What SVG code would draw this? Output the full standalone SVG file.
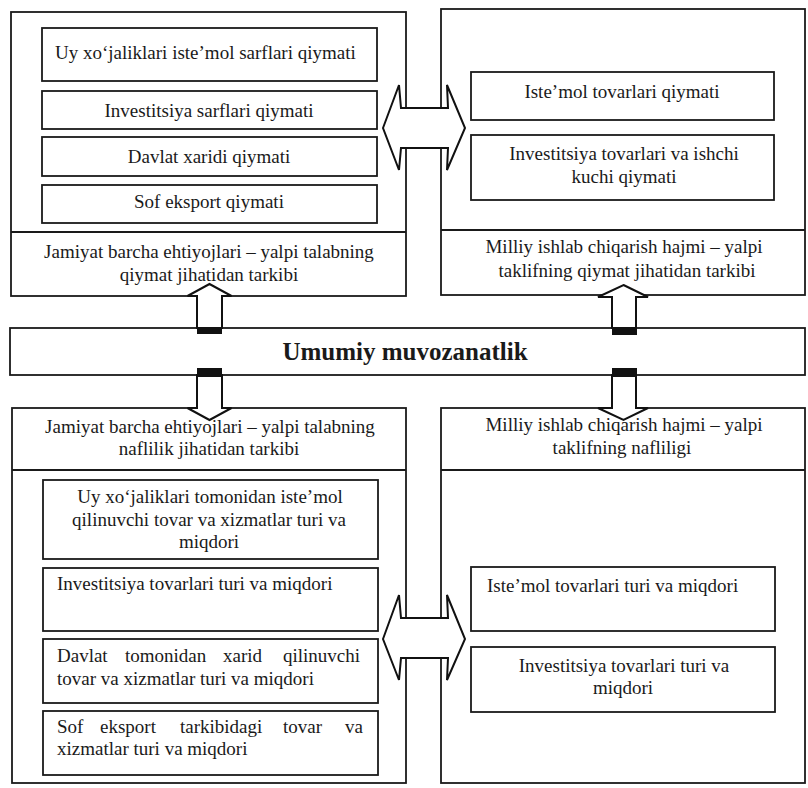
<svg xmlns="http://www.w3.org/2000/svg" width="808" height="788" viewBox="0 0 808 788">
<style>
.box{fill:#fff;stroke:#1a1a1a;stroke-width:1.8}
.sep{stroke:#1a1a1a;stroke-width:1.8}
.arr{fill:#fff;stroke:#111;stroke-width:2;stroke-linejoin:miter}
.blk{fill:#111}
.t{font-family:"Liberation Serif","Times New Roman",serif;font-size:19px;fill:#1a1a1a}
.c{text-anchor:middle}
.b{font-weight:bold;font-size:25px}
</style>
<rect width="808" height="788" fill="#fff"/>

<g id="demand-value">
<rect class="box" x="11" y="12" width="395" height="284"/>
<line class="sep" x1="11" y1="232" x2="406" y2="232"/>
<text class="t c" x="209" y="258">Jamiyat barcha ehtiyojlari – yalpi talabning</text>
<text class="t c" x="209" y="281">qiymat jihatidan tarkibi</text>
</g>
<g id="dv-consumption">
<rect class="box" x="42" y="28" width="335" height="53"/>
<text class="t" x="55" y="59">Uy xo‘jaliklari iste’mol sarflari qiymati</text>
</g>
<g id="dv-investment">
<rect class="box" x="42" y="91" width="335" height="38"/>
<text class="t c" x="209" y="117">Investitsiya sarflari qiymati</text>
</g>
<g id="dv-government">
<rect class="box" x="42" y="137" width="335" height="39"/>
<text class="t c" x="209" y="163">Davlat xaridi qiymati</text>
</g>
<g id="dv-export">
<rect class="box" x="42" y="185" width="335" height="38"/>
<text class="t c" x="209" y="208">Sof eksport qiymati</text>
</g>

<g id="supply-value">
<rect class="box" x="441" y="9" width="364" height="286"/>
<line class="sep" x1="441" y1="230" x2="805" y2="230"/>
<text class="t c" x="624" y="253">Milliy ishlab chiqarish hajmi – yalpi</text>
<text class="t c" x="627" y="277">taklifning qiymat jihatidan tarkibi</text>
</g>
<g id="sv-consumer">
<rect class="box" x="471" y="72" width="303" height="48"/>
<text class="t c" x="622" y="98">Iste’mol tovarlari qiymati</text>
</g>
<g id="sv-investment">
<rect class="box" x="471" y="135" width="303" height="65"/>
<text class="t c" x="624" y="160">Investitsiya tovarlari va ishchi</text>
<text class="t c" x="624" y="183">kuchi qiymati</text>
</g>

<g id="equilibrium">
<rect class="box" x="10" y="328" width="795" height="47"/>
<text class="t c b" x="405" y="360">Umumiy muvozanatlik</text>
</g>

<g id="demand-utility">
<rect class="box" x="12" y="408" width="394" height="375"/>
<line class="sep" x1="12" y1="470" x2="406" y2="470"/>
<text class="t c" x="210" y="433">Jamiyat barcha ehtiyojlari – yalpi talabning</text>
<text class="t c" x="209" y="455">naflilik jihatidan tarkibi</text>
</g>
<g id="du-consumption">
<rect class="box" x="43" y="480" width="335" height="79"/>
<text class="t c" x="210" y="503">Uy xo‘jaliklari tomonidan iste’mol</text>
<text class="t c" x="209" y="526">qilinuvchi tovar va xizmatlar turi va</text>
<text class="t c" x="209" y="548">miqdori</text>
</g>
<g id="du-investment">
<rect class="box" x="43" y="568" width="335" height="63"/>
<text class="t" x="57" y="590">Investitsiya tovarlari turi va miqdori</text>
</g>
<g id="du-government">
<rect class="box" x="43" y="639" width="335" height="64"/>
<text class="t" y="662"><tspan x="57">Davlat</tspan><tspan x="125">tomonidan</tspan><tspan x="223">xarid</tspan><tspan x="283">qilinuvchi</tspan></text>
<text class="t" x="57" y="685">tovar va xizmatlar  turi va miqdori</text>
</g>
<g id="du-export">
<rect class="box" x="43" y="711" width="335" height="64"/>
<text class="t" y="733"><tspan x="57">Sof</tspan><tspan x="100">eksport</tspan><tspan x="180">tarkibidagi</tspan><tspan x="283">tovar</tspan><tspan x="345">va</tspan></text>
<text class="t" x="57" y="755">xizmatlar turi va miqdori</text>
</g>

<g id="supply-utility">
<rect class="box" x="441" y="408" width="364" height="375"/>
<line class="sep" x1="441" y1="470" x2="805" y2="470"/>
<text class="t c" x="624" y="431">Milliy ishlab chiqarish hajmi – yalpi</text>
<text class="t c" x="622" y="454">taklifning nafliligi</text>
</g>
<g id="su-consumer">
<rect class="box" x="471" y="567" width="304" height="64"/>
<text class="t" x="487" y="592">Iste’mol tovarlari turi va miqdori</text>
</g>
<g id="su-investment">
<rect class="box" x="471" y="647" width="304" height="65"/>
<text class="t c" x="624" y="672">Investitsiya tovarlari turi va</text>
<text class="t c" x="623" y="694">miqdori</text>
</g>

<g id="connectors">
<polygon class="arr" points="383,128 399,85 401,108 448,108 447,85 465,128 447,170 448,148 401,148 399,170"/>
<polygon class="arr" points="383,639 399,595 401,618 448,618 447,595 465,639 447,680 448,658 401,658 399,680"/>
<polygon class="arr" points="209.5,284 231.5,296 222,296 222,328 197,328 197,296 187.5,296"/>
<rect class="blk" x="197" y="327" width="25" height="7"/>
<polygon class="arr" points="623.5,285 648,297 636,297 636,328 612,328 612,297 598,297"/>
<rect class="blk" x="612" y="327" width="25" height="8"/>
<polygon class="arr" points="197,375 222,375 222,408 231.5,408 209.5,420 187.5,408 197,408"/>
<rect class="blk" x="197" y="368" width="25" height="9"/>
<polygon class="arr" points="612,375 636,375 636,408 648,408 623.5,420 598,408 612,408"/>
<rect class="blk" x="612" y="368" width="25" height="9"/>
</g>
</svg>
